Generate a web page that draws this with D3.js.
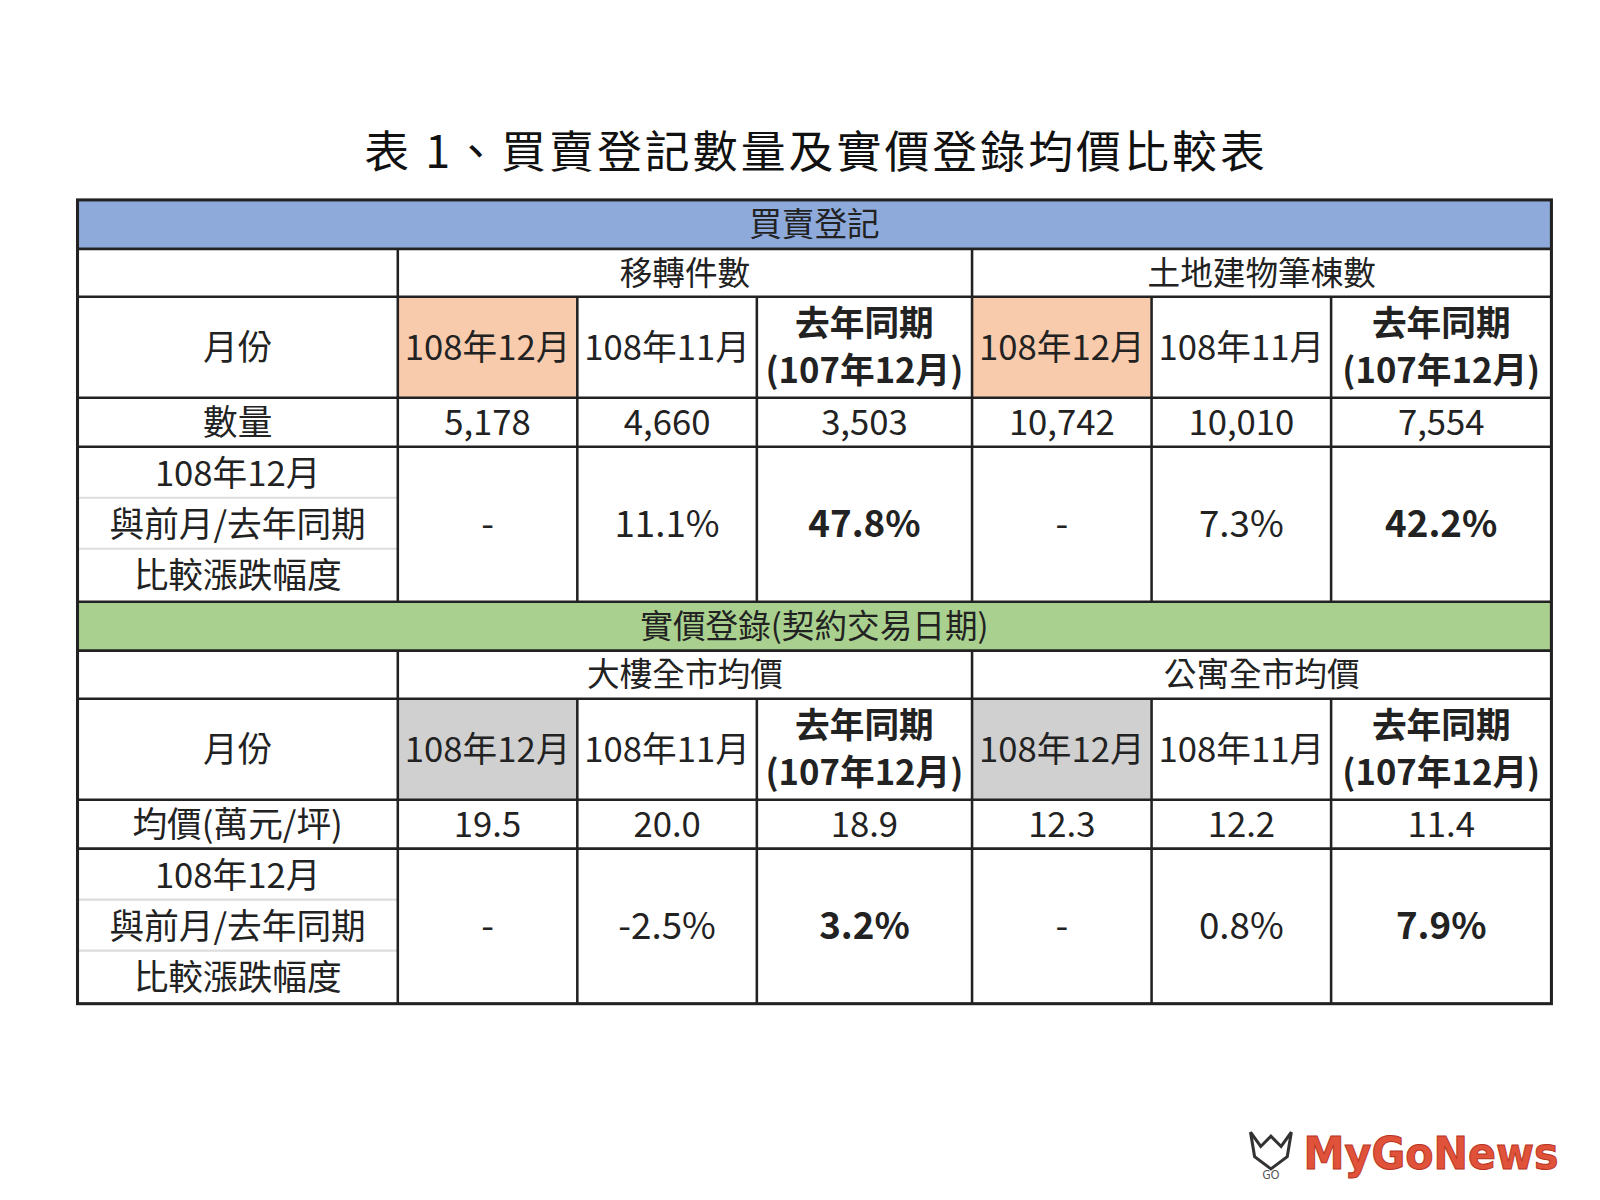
<!DOCTYPE html>
<html><head><meta charset="utf-8">
<script src="https://cdn.jsdelivr.net/npm/d3@7"></script>
<style>body{margin:0;background:#fff}</style></head>
<body><svg id="c" width="1600" height="1200"></svg>
<script>
const title = "表 1、買賣登記數量及實價登錄均價比較表";
const sections = ["買賣登記", "實價登錄(契約交易日期)"];
const groups = [["移轉件數", "土地建物筆棟數"], ["大樓全市均價", "公寓全市均價"]];
const months = ["108年12月", "108年11月", "去年同期|(107年12月)"];
const rowLabels = [["月份", "數量", "108年12月|與前月/去年同期|比較漲跌幅度"], ["月份", "均價(萬元/坪)", "108年12月|與前月/去年同期|比較漲跌幅度"]];
const counts = ["5,178", "4,660", "3,503", "10,742", "10,010", "7,554"];
const countChange = ["-", "11.1%", "47.8%", "-", "7.3%", "42.2%"];
const prices = ["19.5", "20.0", "18.9", "12.3", "12.2", "11.4"];
const priceChange = ["-", "-2.5%", "3.2%", "-", "0.8%", "7.9%"];

const colW = [314, 176, 176, 211, 176, 176, 216];
const colX = [76, ...d3.cumsum(colW).map(v => 76 + v)];
const root = d3.select("#c");
const svg = root.append("g").attr("transform", "scale(1.02)");
const F = "'Noto Sans CJK TC', sans-serif";
const x = i => colX[i];

svg.append("text").attr("x", 800).attr("y", 165).attr("text-anchor", "middle")
  .attr("font-family", F).attr("font-size", 44).attr("letter-spacing", 3).attr("fill", "#111").text(title);

function cell(x0, x1, y0, y1, txt, opt = {}) {
  if (opt.fill) svg.append("rect").attr("x", x0).attr("y", y0).attr("width", x1 - x0).attr("height", y1 - y0).attr("fill", opt.fill);
  const lines = txt.split("|");
  const lh = opt.lh || 48;
  const cy = (y0 + y1) / 2 - (lines.length - 1) * lh / 2;
  lines.forEach((l, k) => svg.append("text").attr("x", (x0 + x1) / 2).attr("y", cy + k * lh)
    .attr("dy", "0.36em").attr("text-anchor", "middle").attr("font-family", F)
    .attr("font-size", opt.size || 34).attr("font-weight", opt.bold ? 700 : 400)
    .attr("fill", "#222").text(l));
}

const blocks = [
  {y: 196, band: "#8eaadb", hi: "#f8cbad", vals: counts, chg: countChange},
  {y: 590, band: "#a9d08e", hi: "#d0d0d0", vals: prices, chg: priceChange}
];
const lines = [];
blocks.forEach((b, s) => {
  const r = [b.y, b.y + 48, b.y + 95, b.y + 194, b.y + 242, b.y + 394];
  cell(x(0), x(7), r[0], r[1], sections[s], {fill: b.band, size: 32});
  cell(x(1), x(4), r[1], r[2], groups[s][0], {size: 32});
  cell(x(4), x(7), r[1], r[2], groups[s][1], {size: 32});
  cell(x(0), x(1), r[2], r[3], rowLabels[s][0]);
  cell(x(0), x(1), r[3], r[4], rowLabels[s][1]);
  cell(x(0), x(1), r[4], r[5], rowLabels[s][2], {lh: 50});
  for (let c = 0; c < 6; c++) {
    const m = c % 3;
    cell(x(c + 1), x(c + 2), r[2], r[3], months[m], {fill: m === 0 ? b.hi : null, bold: m === 2, lh: 46});
    cell(x(c + 1), x(c + 2), r[3], r[4], b.vals[c]);
    cell(x(c + 1), x(c + 2), r[4], r[5], b.chg[c], {bold: m === 2, size: 36});
  }
  [r[1], r[2], r[3], r[4]].forEach(y => lines.push([x(0), y, x(7), y]));
  lines.push([x(1), r[1], x(1), r[5]], [x(4), r[1], x(4), r[5]]);
  [2, 3, 5, 6].forEach(c => lines.push([x(c), r[2], x(c), r[5]]));
  svg.append("line").attr("x1", x(0)).attr("x2", x(1)).attr("y1", r[4] + 50).attr("y2", r[4] + 50).attr("stroke", "#ddd").attr("stroke-width", 2);
  svg.append("line").attr("x1", x(0)).attr("x2", x(1)).attr("y1", r[4] + 100).attr("y2", r[4] + 100).attr("stroke", "#ddd").attr("stroke-width", 2);
});
lines.push([x(0), 590, x(7), 590], [x(0), 638, x(7), 638]);
svg.selectAll("line.g").data(lines).join("line").attr("class", "g")
  .attr("x1", d => d[0]).attr("y1", d => d[1]).attr("x2", d => d[2]).attr("y2", d => d[3])
  .attr("stroke", "#222").attr("stroke-width", 2.5);
svg.append("rect").attr("x", x(0)).attr("y", 196).attr("width", x(7) - x(0)).attr("height", 788)
  .attr("fill", "none").attr("stroke", "#222").attr("stroke-width", 3);

svg.append("text").attr("x", 1278).attr("y", 1146)
  .attr("font-family", "'DejaVu Sans', sans-serif").attr("font-weight", 700).attr("font-size", 44)
  .attr("textLength", 250).attr("lengthAdjust", "spacingAndGlyphs")
  .attr("fill", "#e0523a").attr("stroke", "#b8341f").attr("stroke-width", 1).text("MyGoNews");
svg.append("text").attr("x", 1246).attr("y", 1156).attr("text-anchor", "middle")
  .attr("font-family", F).attr("font-size", 12).attr("fill", "#555").text("GO");
svg.append("path").attr("d", "M1226 1110 L1236 1124 L1246 1114 L1256 1124 L1266 1110 L1262 1134 L1246 1146 L1230 1134 Z")
  .attr("fill", "none").attr("stroke", "#333").attr("stroke-width", 3);
</script></body></html>
